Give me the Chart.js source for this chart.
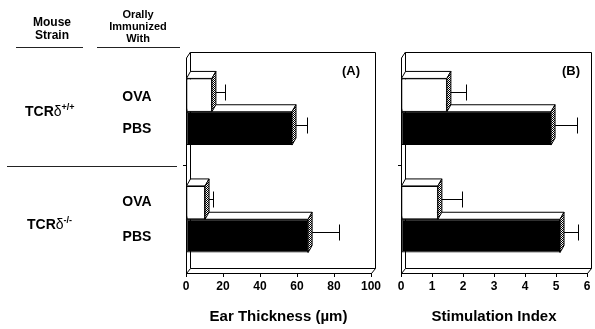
<!DOCTYPE html>
<html>
<head>
<meta charset="utf-8">
<script src="https://cdn.jsdelivr.net/npm/chart.js@4"></script>
<style>
  body { margin: 0; background: #fff; }
  #wrap { position: relative; width: 595px; height: 329px; font-family: 'Liberation Sans', Arial, sans-serif; font-weight: bold; color: #000; }
  canvas { position: absolute; left: 0; top: 0; }
  .t { position: absolute; white-space: nowrap; }
  .c { transform: translate(-50%, -50%); text-align: center; }
  .l { transform: translateY(-50%); }
  .hd { font-size: 11px; line-height: 12px; }
  .hd2 { font-size: 12px; line-height: 13px; }
  .row { font-size: 14px; }
  .rule { position: absolute; height: 1px; background: #222; }
  sup { font-size: 9px; vertical-align: 6px; }
  .d { font-weight: normal; }
</style>
</head>
<body>
<div id="wrap">
  <canvas id="chartA" width="595" height="329"></canvas>
  <canvas id="chartB" width="595" height="329"></canvas>

  <div class="t c hd2" style="left:52px; top:29px;">Mouse<br>Strain</div>
  <div class="t c hd" style="left:138px; top:26px;">Orally<br>Immunized<br>With</div>
  <div class="rule" style="left:16px; width:67px; top:47px;"></div>
  <div class="rule" style="left:97px; width:83px; top:47px;"></div>

  <div class="t l row" style="left:25px; top:110px;">TCR<span class="d">δ</span><sup>+/+</sup></div>
  <div class="t c row" style="left:137px; top:96px;">OVA</div>
  <div class="t c row" style="left:137px; top:128px;">PBS</div>
  <div class="rule" style="left:7px; width:170px; top:166px;"></div>
  <div class="t l row" style="left:27px; top:223px;">TCR<span class="d">δ</span><sup>-/-</sup></div>
  <div class="t c row" style="left:137px; top:201px;">OVA</div>
  <div class="t c row" style="left:137px; top:236px;">PBS</div>
</div>

<script>
// groups (rows) and the two treatments
var groups = ['TCRδ+/+', 'TCRδ-/-'];

// panel A: ear thickness (um)
var earOVA = [14, 10.3];
var earOVAErr = [7, 4.3];
var earPBS = [57.3, 66];
var earPBSErr = [8, 16.7];

// panel B: stimulation index
var siOVA = [1.48, 1.19];
var siOVAErr = [0.62, 0.78];
var siPBS = [4.84, 5.13];
var siPBSErr = [0.84, 0.58];

var FONT = "'Liberation Sans', Arial, sans-serif";

function stipple(ctx) {
    var c = document.createElement('canvas');
    c.width = 2; c.height = 2;
    var g = c.getContext('2d');
    g.fillStyle = '#fff';
    g.fillRect(0, 0, 2, 2);
    g.fillStyle = '#000';
    g.fillRect(0, 0, 1, 1);
    g.fillRect(1, 1, 1, 1);
    return ctx.createPattern(c, 'repeat');
}

function poly(ctx, pts, fill) {
    ctx.beginPath();
    ctx.moveTo(pts[0][0], pts[0][1]);
    for (var i = 1; i < pts.length; i++) ctx.lineTo(pts[i][0], pts[i][1]);
    ctx.closePath();
    ctx.fillStyle = fill;
    ctx.fill();
    ctx.stroke();
}

// 3D frame + bar tops/sides + error bars
var box3d = {
    id: 'box3d',
    beforeDatasetsDraw: function (chart, args, opts) {
        var ctx = chart.ctx, a = chart.chartArea;
        var fx = 4, fy = 5;
        ctx.save();
        ctx.strokeStyle = '#000';
        ctx.lineWidth = 1;
        ctx.beginPath();
        // back wall
        ctx.rect(a.left + fx + 0.5, a.top - 6 + 0.5, a.right - a.left, a.bottom - fy - a.top + 6);
        // front left edge and floor
        ctx.moveTo(a.left + 0.5, a.top);
        ctx.lineTo(a.left + 0.5, a.bottom + 0.5);
        ctx.lineTo(a.right + 0.5, a.bottom + 0.5);
        ctx.lineTo(a.right + fx + 0.5, a.bottom - fy + 0.5);
        ctx.moveTo(a.left + 0.5, a.top);
        ctx.lineTo(a.left + fx + 0.5, a.top - 6);
        ctx.moveTo(a.left + 0.5, a.bottom + 0.5);
        ctx.lineTo(a.left + fx + 0.5, a.bottom - fy + 0.5);
        ctx.stroke();

        // bar top and side faces, PBS first so OVA covers it
        var pat = stipple(ctx);
        var dx = 4, dy = 7;
        for (var d = chart.data.datasets.length - 1; d >= 0; d--) {
            chart.getDatasetMeta(d).data.forEach(function (bar) {
                var x0 = bar.base, x1 = bar.x;
                var yt = bar.y - bar.height / 2, yb = bar.y + bar.height / 2;
                poly(ctx, [[x0, yt], [x0 + dx, yt - dy], [x1 + dx, yt - dy], [x1, yt]], '#fff');
                poly(ctx, [[x1, yt], [x1 + dx, yt - dy], [x1 + dx, yb - dy], [x1, yb]], pat);
            });
        }
        ctx.restore();
    },
    afterDatasetsDraw: function (chart) {
        var ctx = chart.ctx, xs = chart.scales.x;
        ctx.save();
        ctx.strokeStyle = '#000';
        ctx.lineWidth = 1;
        chart.data.datasets.forEach(function (ds, d) {
            chart.getDatasetMeta(d).data.forEach(function (bar, i) {
                var y = Math.round(bar.y - 3.5) + 0.5;
                var xe = Math.round(xs.getPixelForValue(ds.data[i] + ds.err[i])) + 0.5;
                ctx.beginPath();
                ctx.moveTo(bar.x + 4, y);
                ctx.lineTo(xe, y);
                ctx.moveTo(xe, y - 8);
                ctx.lineTo(xe, y + 8);
                ctx.stroke();
            });
        });
        // panel letter
        ctx.fillStyle = '#000';
        ctx.font = 'bold 13px ' + FONT;
        ctx.textAlign = 'center';
        ctx.textBaseline = 'middle';
        ctx.fillText(chart.options.plugins.box3d.letter, chart.options.plugins.box3d.lx, 71);
        ctx.restore();
    }
};

function makeChart(id, ova, ovaErr, pbs, pbsErr, max, step, title, letter, lx, padL, padR) {
    var ctx = document.getElementById(id).getContext('2d');
    return new Chart(ctx, {
        type: 'bar',
        data: {
            labels: groups,
            datasets: [{
                label: 'OVA',
                data: ova,
                err: ovaErr,
                backgroundColor: '#fff',
                borderColor: '#000',
                borderWidth: 1,
                borderSkipped: false,
                categoryPercentage: 0.62,
                barPercentage: 1.0
            }, {
                label: 'PBS',
                data: pbs,
                err: pbsErr,
                backgroundColor: '#000',
                borderColor: '#000',
                borderWidth: 1,
                borderSkipped: false,
                categoryPercentage: 0.62,
                barPercentage: 1.0
            }]
        },
        options: {
            indexAxis: 'y',
            responsive: false,
            animation: false,
            layout: { padding: { left: padL, right: padR, top: 58, bottom: 0 } },
            plugins: {
                legend: { display: false },
                tooltip: { enabled: false },
                box3d: { letter: letter, lx: lx }
            },
            scales: {
                x: {
                    type: 'linear',
                    min: 0,
                    max: max,
                    ticks: { stepSize: step, color: '#000', padding: 2, font: { family: FONT, size: 12, weight: 'bold' } },
                    grid: { drawOnChartArea: false, tickLength: 4, color: '#000' },
                    border: { display: false },
                    title: { display: true, text: title, color: '#000', padding: { top: 0, bottom: 3 }, font: { family: FONT, size: 15, weight: 'bold' } },
                    afterFit: function (s) { s.height = 56; }
                },
                y: {
                    type: 'category',
                    ticks: { display: false },
                    grid: {
                        drawOnChartArea: false,
                        tickLength: 3,
                        color: function (c) { return c.index === 1 ? '#000' : 'rgba(0,0,0,0)'; }
                    },
                    border: { display: false },
                    afterFit: function (s) { s.width = 3; }
                }
            }
        },
        plugins: [box3d]
    });
}

makeChart('chartA', earOVA, earOVAErr, earPBS, earPBSErr, 100, 20, 'Ear Thickness (µm)', '(A)', 351, 183, 224);
makeChart('chartB', siOVA, siOVAErr, siPBS, siPBSErr, 6, 1, 'Stimulation Index', '(B)', 571, 398, 8);
</script>
</body>
</html>
